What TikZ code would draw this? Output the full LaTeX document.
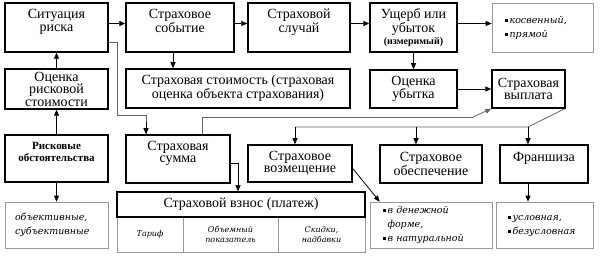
\documentclass[tikz,border=0pt]{standalone}
\usepackage{fontspec}
\setmainfont{Liberation Serif}
\newfontfamily\boxfont{Liberation Serif}
\newfontfamily\notefont{DejaVu Serif}
\usetikzlibrary{arrows.meta}

\newcommand{\sqb}{\rule[1.5pt]{3pt}{3pt}\,}

\begin{document}
\begin{tikzpicture}[x=1pt,y=-1pt,>={Triangle[length=6pt,width=5pt]},
  box/.style={draw,line width=1.5pt,align=center,font=\boxfont\fontsize{14}{12.5}\selectfont,inner sep=1pt},
  hi/.style={text depth=14pt},
  note/.style={draw=black!40,line width=0.7pt,align=left,font=\notefont\itshape\fontsize{9.5}{14}\selectfont,inner sep=0pt},
  cell/.style={draw=black!40,line width=0.7pt,align=center,font=\notefont\itshape\fontsize{8}{9.5}\selectfont,minimum height=35pt,inner sep=1pt},
  line/.style={black!60,line width=0.8pt},
  arr/.style={->,line width=0.8pt}]
\useasboundingbox (0,0) rectangle (602,256);
% top row
\node[box,hi,minimum width=103pt,minimum height=49pt] (sit) at (56.5,27.5) {Ситуация\\риска};
\node[box,hi,minimum width=108pt,minimum height=49pt] (sob) at (180,27.5) {Страховое\\событие};
\node[box,hi,minimum width=102pt,minimum height=49pt] (sluch) at (299,27.5) {Страховой\\случай};
\node[box,minimum width=87pt,minimum height=49pt] (usch) at (413.5,27.5) {Ущерб или\\убыток\\{\bfseries\fontsize{10}{10}\selectfont(измеримый)}};
\node[note,minimum width=101pt,minimum height=49pt,text width=75pt] (kosv) at (542.5,27.5) {\sqb косвенный,\\\sqb прямой};
% second row
\node[box,minimum width=103pt,minimum height=40pt] (ocrisk) at (56.5,89) {Оценка\\рисковой\\стоимости};
\node[box,minimum width=224pt,minimum height=39pt] (stoim) at (238,88.5) {Страховая стоимость (страховая\\оценка объекта страхования)};
\node[box,minimum width=87pt,minimum height=38pt] (ocub) at (413.5,89) {Оценка\\убытка};
\node[box,minimum width=73pt,minimum height=38pt] (vypl) at (528.5,89) {Страховая\\выплата};
% third row
\node[box,hi,minimum width=103pt,minimum height=47pt,font=\boxfont\bfseries\fontsize{11}{12}\selectfont] (obst) at (56.5,158.5) {Рисковые\\обстоятельства};
\node[box,hi,minimum width=104pt,minimum height=48pt] (summa) at (178,159) {Страховая\\сумма};
\node[box,minimum width=104pt,minimum height=37pt] (vozm) at (300,163.5) {Страховое\\возмещение};
\node[box,minimum width=102pt,minimum height=38pt] (obesp) at (431,164) {Страховое\\обеспечение};
\node[box,minimum width=88pt,minimum height=38pt,text depth=14pt] (fran) at (544,164) {Франшиза};
% bottom row
\node[note,minimum width=103pt,minimum height=46pt,text width=83pt] (obj) at (56.5,225) {объективные,\\субъективные};
\node[cell,minimum width=66pt] (tar) at (150,234.5) {Тариф};
\node[cell,minimum width=95pt] (obem) at (230.5,234.5) {Объемный\\показатель};
\node[cell,minimum width=87pt] (skid) at (321.5,234.5) {Скидки,\\надбавки};
\node[box,minimum width=248pt,minimum height=25pt] (vznos) at (241,204.5) {Страховой взнос (платеж)};
\node[note,minimum width=122pt,minimum height=46pt,text width=96pt] (den) at (431,225) {\sqb в денежной\\\phantom{\sqb}форме,\\\sqb в натуральной};
\node[note,minimum width=97pt,minimum height=46pt,text width=73pt,text depth=14pt] (usl) at (544.5,225) {\sqb условная,\\\sqb безусловная};

\coordinate (d1) at (295,127);
\coordinate (d2) at (416,127);
\coordinate (d3) at (528,127);

\draw[arr] ([yshift=4pt]sit.east) -- ([yshift=4pt]sob.west);
\draw[arr] ([yshift=4pt]sob.east) -- ([yshift=4pt]sluch.west);
\draw[arr] ([yshift=4pt]sluch.east) -- ([yshift=4pt]usch.west);
\draw[arr] ([yshift=4pt]usch.east) -- ([yshift=4pt]kosv.west);
\draw[arr] ([xshift=-7pt]sob.south) -- ([xshift=-7pt]sob.south |- stoim.north);
\draw[arr] (usch.south) -- (ocub.north);
\draw[arr] (ocub.east) -- (vypl.west);
\draw[arr] (ocrisk.north) -- (sit.south);
\draw[arr] (obst.north) -- (ocrisk.south);
\draw[arr] (obst.south) -- (obj.north);
\draw[line] ([yshift=-15pt]sit.east) -| (117,115) -| ([xshift=-32pt]summa.north);
\draw[arr] (146,122) -- ([xshift=-32pt]summa.north);
\draw[line] ([xshift=24pt]summa.north) |- (473,117);
\draw[arr,black!60] (473,117) -- (vypl.south west);
\draw[arr] ([yshift=-4pt]summa.east) -| (vznos.north -| 238,0);
\draw[line] ([xshift=-1pt]vypl.south east) -- (d3) -- (d1);
\draw[arr] (d1) -- (d1 |- vozm.north);
\draw[arr] (d2) -- (d2 |- obesp.north);
\draw[arr] (d3) -- (d3 |- fran.north);
\draw[arr] (d3 |- fran.south) -- (d3 |- usl.north);
\draw[arr] ([yshift=-5pt]vozm.east) -- ([xshift=10pt]den.north west);
\end{tikzpicture}
\end{document}
